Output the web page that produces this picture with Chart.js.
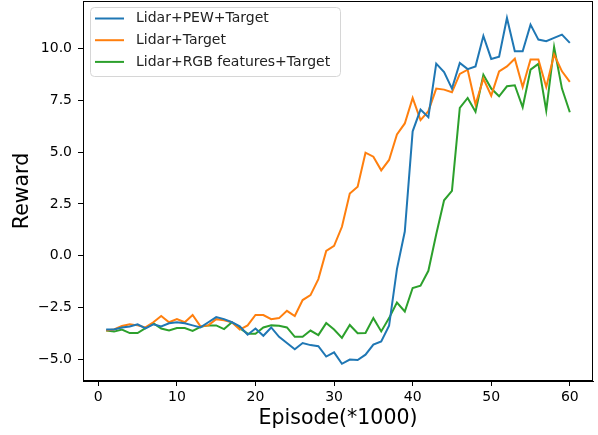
<!DOCTYPE html>
<html><head><meta charset="utf-8">
<script src="https://cdn.jsdelivr.net/npm/chart.js@4"></script>
<style>html,body{margin:0;padding:0;background:#fff}#wrap{width:598px;height:435px}</style>
</head><body><div id="wrap"><canvas id="c" width="598" height="435"></canvas></div>
<script>
const episodes = [1,2,3,4,5,6,7,8,9,10,11,12,13,14,15,16,17,18,19,20,21,22,23,24,25,26,27,28,29,30,31,32,33,34,35,36,37,38,39,40,41,42,43,44,45,46,47,48,49,50,51,52,53,54,55,56,57,58,59,60];
const pewTarget = [-3.55,-3.55,-3.45,-3.4,-3.3,-3.5,-3.3,-3.4,-3.25,-3.2,-3.25,-3.35,-3.45,-3.2,-2.95,-3.05,-3.2,-3.4,-3.8,-3.5,-3.85,-3.45,-3.9,-4.2,-4.5,-4.2,-4.3,-4.35,-4.85,-4.65,-5.2,-5.0,-5.02,-4.76,-4.28,-4.12,-3.37,-0.64,1.17,6.0,7.05,6.68,9.26,8.85,8.06,9.3,9.0,9.13,10.6,9.49,9.6,11.46,9.86,9.86,11.14,10.42,10.34,10.5,10.66,10.26];
const lidarTarget = [-3.6,-3.55,-3.38,-3.3,-3.35,-3.45,-3.2,-2.9,-3.2,-3.05,-3.2,-2.85,-3.4,-3.35,-3.05,-3.1,-3.2,-3.55,-3.35,-2.85,-2.85,-3.05,-3.0,-2.65,-2.9,-2.13,-1.89,-1.12,0.24,0.48,1.4,3.0,3.33,4.97,4.78,4.12,4.62,5.85,6.38,7.61,6.54,6.97,8.06,8.01,7.88,8.77,8.97,7.29,8.54,7.72,8.89,9.13,9.5,8.13,9.46,9.46,8.14,9.7,8.89,8.38];
const rgbTarget = [-3.6,-3.65,-3.55,-3.72,-3.72,-3.48,-3.24,-3.5,-3.6,-3.48,-3.48,-3.62,-3.42,-3.35,-3.35,-3.53,-3.2,-3.48,-3.75,-3.75,-3.45,-3.35,-3.37,-3.45,-3.9,-3.9,-3.6,-3.82,-3.24,-3.55,-3.95,-3.33,-3.73,-3.72,-3.0,-3.64,-3.0,-2.25,-2.68,-1.55,-1.44,-0.72,1.04,2.68,3.13,7.13,7.61,6.94,8.73,8.06,7.69,8.17,8.22,7.16,8.97,9.25,7.0,10.06,8.06,6.92];
const seriesLabels = ['Lidar+PEW+Target','Lidar+Target','Lidar+RGB features+Target'];
const xTicks = [0,10,20,30,40,50,60];
const yTicks = [-5,-2.5,0,2.5,5,7.5,10];
const colors = ['#1f77b4','#ff7f0e','#2ca02c'];
const FONT = 'DejaVu Sans';

function pts(vals){ return episodes.map((e,i)=>({x:e,y:vals[i]})); }
const allSeries = [pewTarget, lidarTarget, rgbTarget];

const frame = {
  id:'frame',
  afterDatasetsDraw(chart){
    const {ctx, chartArea:a} = chart;
    ctx.save();
    ctx.strokeStyle='#000'; ctx.lineWidth=1;
    ctx.strokeRect(Math.round(a.left)+0.5, Math.round(a.top)+0.5, Math.round(a.right-a.left)-1, Math.round(a.bottom-a.top)-1);
    ctx.restore();
  },
  afterDraw(chart){
    const {ctx} = chart;
    const ds = chart.data.datasets;
    const bx=90.5, by=7.5, bw=250, bh=69, r=4;
    ctx.save();
    ctx.beginPath();
    ctx.moveTo(bx+r,by); ctx.lineTo(bx+bw-r,by); ctx.arcTo(bx+bw,by,bx+bw,by+r,r);
    ctx.lineTo(bx+bw,by+bh-r); ctx.arcTo(bx+bw,by+bh,bx+bw-r,by+bh,r);
    ctx.lineTo(bx+r,by+bh); ctx.arcTo(bx,by+bh,bx,by+bh-r,r);
    ctx.lineTo(bx,by+r); ctx.arcTo(bx,by,bx+r,by,r); ctx.closePath();
    ctx.fillStyle='rgba(255,255,255,0.8)'; ctx.fill();
    ctx.strokeStyle='#d6d6d6'; ctx.lineWidth=1; ctx.stroke();
    ctx.font = '14px "'+FONT+'"';
    ctx.textBaseline='middle'; ctx.textAlign='left';
    ds.forEach((d,i)=>{
      const y = 18.5 + i*21.7;
      ctx.strokeStyle=d.borderColor; ctx.lineWidth=2;
      ctx.beginPath(); ctx.moveTo(95,y); ctx.lineTo(124,y); ctx.stroke();
      ctx.fillStyle='#222';
      ctx.fillText(d.label, 136, y);
    });
    ctx.restore();
  }
};

new Chart(document.getElementById('c'), {
  type:'line',
  data:{ datasets: allSeries.map((v,i)=>({label:seriesLabels[i], data:pts(v), borderColor:colors[i], backgroundColor:colors[i], borderWidth:2, pointRadius:0, tension:0, fill:false})) },
  options:{
    responsive:false, animation:false, devicePixelRatio:1,
    layout:{padding:{top:1,right:5,left:0,bottom:0}},
    plugins:{legend:{display:false}, tooltip:{enabled:false}},
    scales:{
      x:{type:'linear', min:-1.95, max:62.95,
        afterBuildTicks:s=>{s.ticks = xTicks.map(v=>({value:v}));},
        afterFit:s=>{s.height=54; s.paddingLeft=0; s.paddingRight=0;},
        ticks:{font:{family:FONT,size:14}, color:'#000', padding:3, maxRotation:0, autoSkip:false, callback:v=>String(v)},
        grid:{drawOnChartArea:false, drawTicks:true, tickLength:5, color:'#000', tickColor:'#000'},
        border:{display:true, color:'#000', width:1},
        title:{display:true, text:'Episode(*1000)', color:'#000', font:{family:FONT,size:20.5}, padding:{top:0,bottom:4.5}}
      },
      y:{type:'linear', min:-6.03, max:12.28,
        afterBuildTicks:s=>{s.ticks = yTicks.map(v=>({value:v}));},
        afterFit:s=>{s.width=83; s.paddingTop=0; s.paddingBottom=0;},
        ticks:{font:{family:FONT,size:14}, color:'#000', padding:6, autoSkip:false, callback:v=>(v<0?'\u2212':'')+Math.abs(v).toFixed(1)},
        grid:{drawOnChartArea:false, drawTicks:true, tickLength:5, color:'#000', tickColor:'#000'},
        border:{display:true, color:'#000', width:1},
        title:{display:true, text:'Reward', color:'#000', font:{family:FONT,size:20.5}, padding:{top:10,bottom:0}}
      }
    }
  },
  plugins:[frame]
});
</script></body></html>
